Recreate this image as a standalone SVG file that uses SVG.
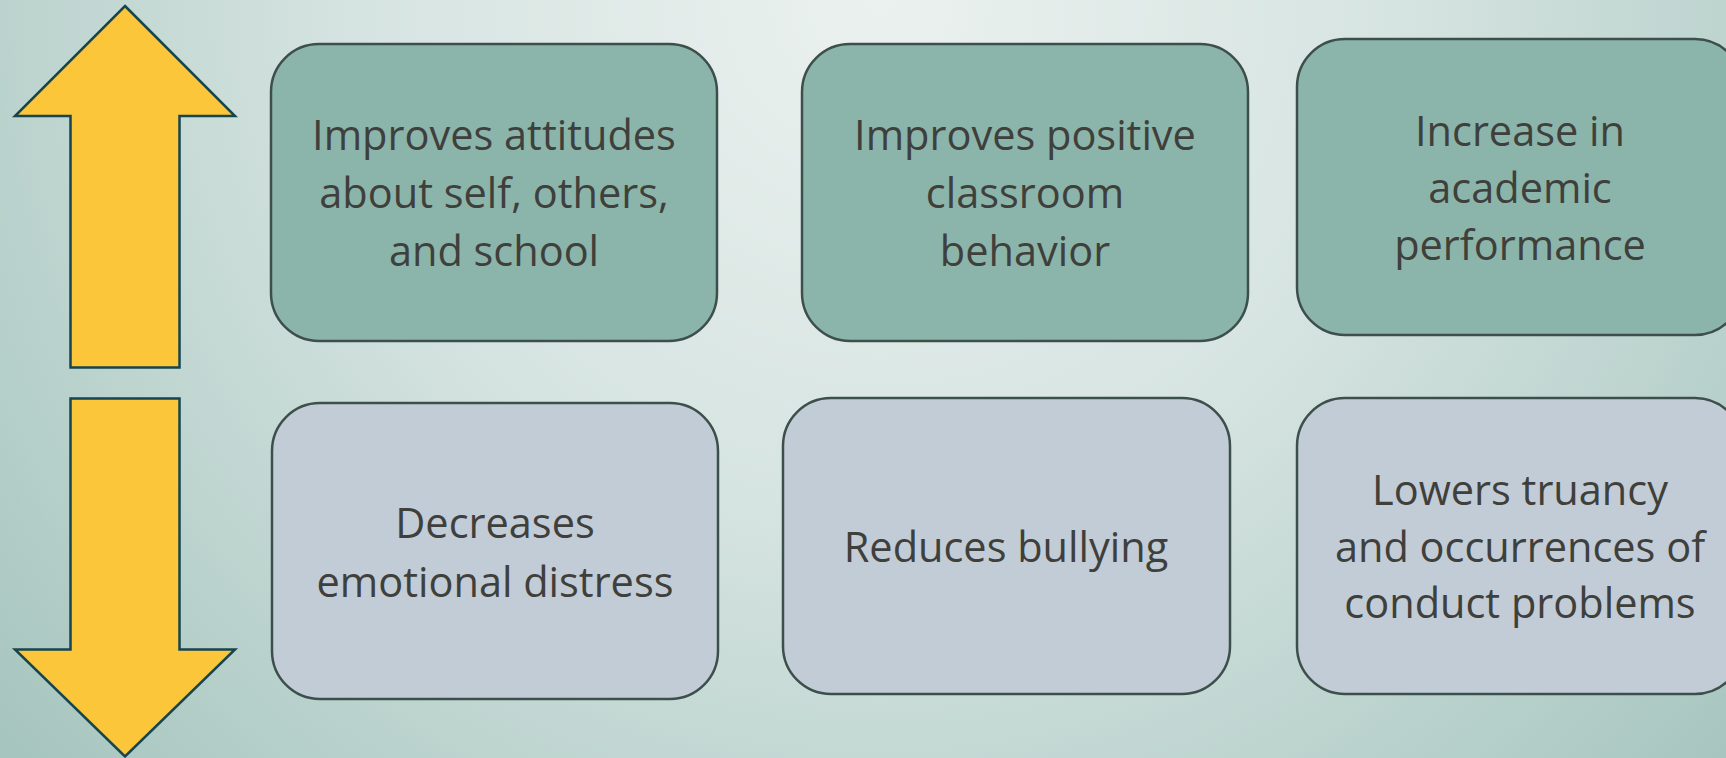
<svg xmlns="http://www.w3.org/2000/svg" width="1726" height="758" viewBox="0 0 1726 758">
<defs>
<radialGradient id="bg" cx="880" cy="0" r="1150" gradientUnits="userSpaceOnUse">
<stop offset="0" stop-color="#ebf1ef"/>
<stop offset="0.45" stop-color="#d6e4e1"/>
<stop offset="1" stop-color="#a6c5be"/>
</radialGradient>
<style>
.up{fill:#8bb5ab;stroke:#3d4f4b;stroke-width:2.5}
.dn{fill:#c2ccd7;stroke:#3d4f4b;stroke-width:2.5}
.arrow{fill:#fbc63a;stroke:#16454f;stroke-width:2.5;stroke-linejoin:miter}
.t{font-family:"Open Sans","Noto Sans","Liberation Sans",sans-serif;font-size:41.5px;fill:#3f3f3b;text-anchor:middle}
</style>
</defs>
<rect width="1726" height="758" fill="url(#bg)"/>
<g id="arrow-up"><polygon class="arrow" points="125,6 235,116 179.5,116 179.5,367.5 70.5,367.5 70.5,116 15,116"/></g>
<g id="arrow-down"><polygon class="arrow" points="70.5,398.5 179.5,398.5 179.5,649.5 235,649.5 125,756.5 15,649.5 70.5,649.5"/></g>
<g id="connectors"></g>
<g id="n1"><rect class="up" x="271" y="44" width="446" height="297" rx="48"/>
<text class="t"><tspan x="494" y="150">Improves attitudes</tspan><tspan x="494" y="208">about self, others,</tspan><tspan x="494" y="266">and school</tspan></text></g>
<g id="n2"><rect class="up" x="802" y="44" width="446" height="297" rx="48"/>
<text class="t"><tspan x="1025" y="150">Improves positive</tspan><tspan x="1025" y="208">classroom</tspan><tspan x="1025" y="266">behavior</tspan></text></g>
<g id="n3"><rect class="up" x="1297" y="39" width="446" height="296" rx="48"/>
<text class="t"><tspan x="1520" y="146">Increase in</tspan><tspan x="1520" y="203">academic</tspan><tspan x="1520" y="260">performance</tspan></text></g>
<g id="n4"><rect class="dn" x="272" y="403" width="446" height="296" rx="48"/>
<text class="t"><tspan x="495" y="538">Decreases</tspan><tspan x="495" y="597">emotional distress</tspan></text></g>
<g id="n5"><rect class="dn" x="783" y="398" width="447" height="296" rx="48"/>
<text class="t"><tspan x="1006" y="562">Reduces bullying</tspan></text></g>
<g id="n6"><rect class="dn" x="1297" y="398" width="446" height="296" rx="48"/>
<text class="t"><tspan x="1520" y="505">Lowers truancy</tspan><tspan x="1520" y="562">and occurrences of</tspan><tspan x="1520" y="618">conduct problems</tspan></text></g>
</svg>
